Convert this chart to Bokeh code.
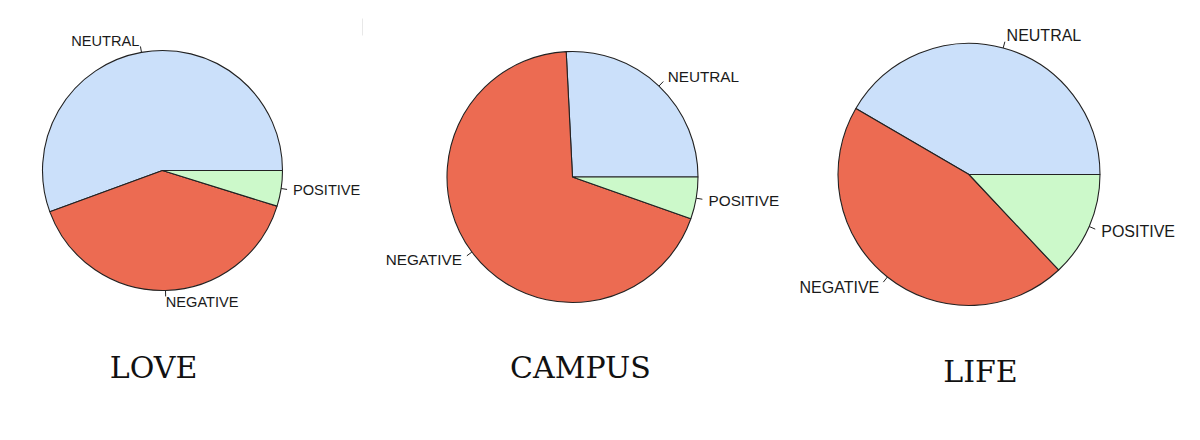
import math
from bokeh.plotting import figure
from bokeh.models import Range1d
from bokeh.core.properties import value
from bokeh.embed import file_html
from bokeh.resources import INLINE

# ---- data ----
categories = ["NEUTRAL", "NEGATIVE", "POSITIVE"]
love = [0.556, 0.396, 0.048]
campus = [0.258, 0.688, 0.054]
life = [0.416, 0.454, 0.130]
titles = ["LOVE", "CAMPUS", "LIFE"]
colors = ["#CBE0FA", "#EC6B52", "#CCF9CA"]

series = [love, campus, life]

# ---- layout (screen px; y measured from top of window) ----
H = 440
W_FIG, H_FIG = 1184, 424
centers = [(162, 170), (572, 176.5), (968.5, 174)]
radii = [120, 125.5, 131]
title_pos = [(153, 366.5), (580, 366.5), (980, 371.3)]

p = figure(width=W_FIG, height=H_FIG, x_range=Range1d(0, W_FIG),
           y_range=Range1d(H - H_FIG, H), output_backend="svg",
           toolbar_location=None, x_axis_type=None, y_axis_type=None,
           min_border=0, outline_line_color=None)
p.grid.visible = False
p.background_fill_color = "white"

for i, vals in enumerate(series):
    cx, cy_s = centers[i]
    cy = H - cy_s
    r = radii[i]
    total = sum(vals)
    start = 0.0
    fs = 0.122 * r
    for cat, v, col in zip(categories, vals, colors):
        a0 = start
        a1 = start + 2 * math.pi * v / total
        p.wedge(x=[cx], y=[cy], radius=r, start_angle=a0, end_angle=a1,
                direction="anticlock", fill_color=col,
                line_color="#222222", line_width=1.1)
        mid = (a0 + a1) / 2
        c, s = math.cos(mid), math.sin(mid)
        p.segment(x0=[cx + r * c], y0=[cy + r * s],
                  x1=[cx + 1.05 * r * c], y1=[cy + 1.05 * r * s],
                  line_color="#222222", line_width=1)
        p.text(x=[cx + 1.1 * r * c], y=[cy + 1.1 * r * s], text=[cat],
               text_font=value("Liberation Sans"),
               text_font_size=value(f"{fs:.1f}px"),
               text_color="#1a1a1a",
               text_align="left" if c >= 0 else "right",
               text_baseline="middle")
        start = a1
    tx, ty = title_pos[i]
    p.text(x=[tx], y=[H - ty], text=[titles[i]],
           text_font=value("DejaVu Serif"), text_font_size=value("30px"),
           text_color="#111111", text_align="center",
           text_baseline="alphabetic")

# faint screenshot seam near the top
p.segment(x0=[362], y0=[H - 18], x1=[362], y1=[H - 35],
          line_color="#e8e8e8", line_width=1)

open("out.html", "w").write(file_html(p, INLINE))
